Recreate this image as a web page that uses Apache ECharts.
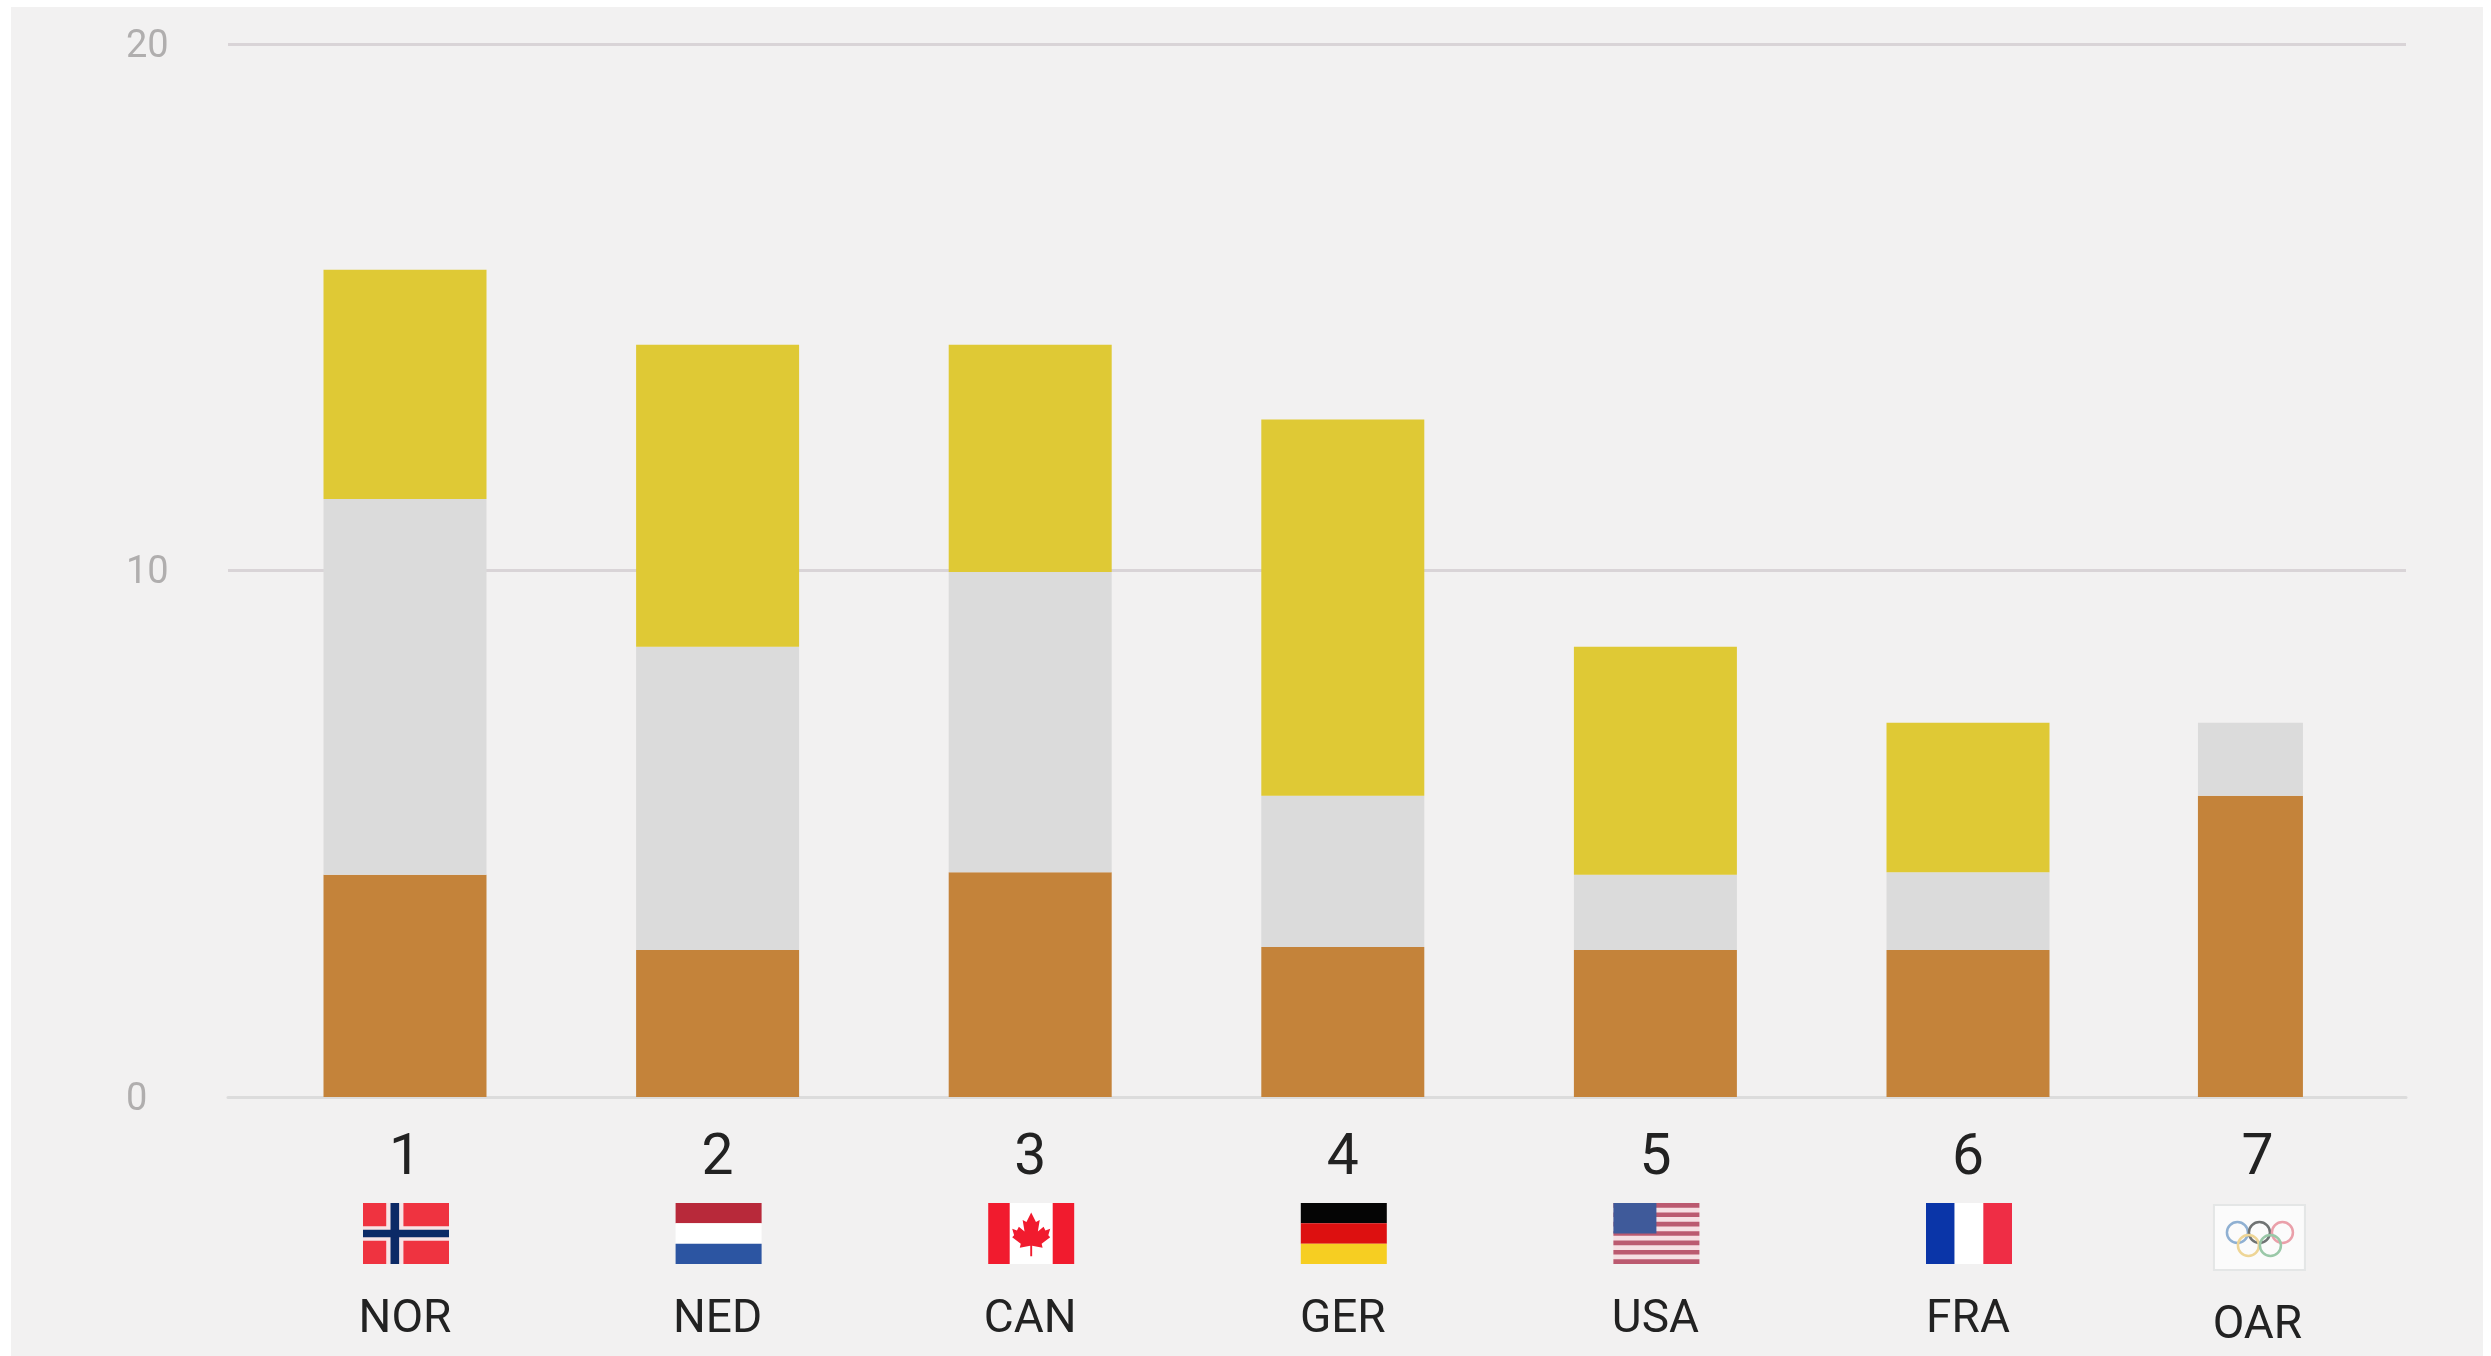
<!DOCTYPE html>
<html><head><meta charset="utf-8">
<style>html,body{margin:0;padding:0;background:#fff}#c{width:2491px;height:1356px}</style>
<script src="https://cdn.jsdelivr.net/npm/echarts@6/dist/echarts.min.js"></script>
</head><body><div id="c"></div>
<script>
const ranks = ['1','2','3','4','5','6','7'];
const codes = ['NOR','NED','CAN','GER','USA','FRA','OAR'];
const bronze = [4.22,2.79,4.27,2.85,2.79,2.79,5.72];
const silver = [7.14,5.76,5.70,2.87,1.43,1.48,1.39];
const gold   = [4.35,5.74,4.32,7.15,4.33,2.84,0];
const yTicks = [0,10,20];

const C = {bg:'#f2f1f1', bronze:'#c4833a', silver:'#dbdbdb', gold:'#dfc935', grid:'#d9d4d7', axis:'#dcdcdc', tick:'#b0aeae', text:'#222'};
const gridTop=44, gridBottom=1356-1097;
const leaf=[[0,-20],[5,-10],[9,-12],[7,0],[13,-5],[15,-1],[20,-3],[18,4],[20,6],[11,13],[12,17],[1,15],[1,26],[-1,26],[-1,15],[-12,17],[-11,13],[-20,6],[-18,4],[-20,-3],[-15,-1],[-13,-5],[-7,0],[-9,-12],[-5,-10]];

function rect(x,y,w,h,fill){return {type:'rect',shape:{x,y,width:w,height:h},style:{fill}};}
function flag(code,x,y,w,h){
  const R=[];
  if(code==='NOR'){R.push(rect(x,y,w,h,'#ef3340'),rect(x+w*.27,y,w*.2,h,'#f7e4e6'),rect(x,y+h*.38,w,h*.24,'#f7e4e6'),rect(x+w*.32,y,w*.1,h,'#0c2a66'),rect(x,y+h*.44,w,h*.12,'#0c2a66'));}
  if(code==='NED'){R.push(rect(x,y,w,h/3,'#b8293a'),rect(x,y+h/3,w,h/3,'#fff'),rect(x,y+2*h/3,w,h/3,'#2c55a2'));}
  if(code==='CAN'){R.push(rect(x,y,w,h,'#fff'),rect(x,y,w*.25,h,'#f11b2e'),rect(x+w*.75,y,w*.25,h,'#f11b2e'));
    const cx=x+w/2,cy=y+h/2-2;
    R.push({type:'polygon',shape:{points:leaf.map(p=>[cx+p[0]*.95,cy+p[1]*.95])},style:{fill:'#f11b2e'}});}
  if(code==='GER'){R.push(rect(x,y,w,h/3,'#050505'),rect(x,y+h/3,w,h/3,'#dd1010'),rect(x,y+2*h/3,w,h/3,'#f6ce22'));}
  if(code==='USA'){R.push(rect(x,y,w,h,'#f6dfe3'));
    for(let k=0;k<7;k++)R.push(rect(x,y+k*2*h/13,w,h/13,'#bb5a70'));
    R.push(rect(x,y,w*.5,h*.5,'#3f5a9a'));}
  if(code==='FRA'){R.push(rect(x,y,w/3,h,'#0a35a8'),rect(x+w/3,y,w/3,h,'#fff'),rect(x+2*w/3,y,w/3,h,'#ef2d45'));}
  if(code==='OAR'){R.push(rect(x,y,w,h,'#fbfbfb'));
    R[0].style.stroke='#e4e6e6';R[0].style.lineWidth=2;
    const cx=x+w/2,cy=y+h/2;
    [[-22,-5,'#8fb0d2'],[0,-5,'#6f7373'],[23,-5,'#eaa0aa'],[-11,8,'#eed596'],[11,8,'#9ac8a8']].forEach(a=>
      R.push({type:'circle',shape:{cx:cx+a[0],cy:cy+a[1],r:10.5},style:{fill:'none',stroke:a[2],lineWidth:2.5}}));}
  return {type:'group',children:R};
}
function flagItem(params,api){
  const i=api.value(0), p=api.coord([i,0]), code=codes[i];
  if(code==='OAR') return flag(code,p[0]+9-45.5,1205,91,65);
  return flag(code,p[0]+1-43,1203,86,61);
}
const labelRich={
  r:{fontFamily:'Roboto',fontSize:57,lineHeight:62,color:C.text,align:'center'},
  g:{fontSize:10,lineHeight:104,align:'center'},
  g7:{fontSize:10,lineHeight:110,align:'center'},
  c:{fontFamily:'Roboto',fontSize:46,lineHeight:50,color:C.text,align:'center'}
};
function barSet(name,data,color,axis,width,keep){
  return {name,type:'bar',stack:'m'+axis,xAxisIndex:axis,yAxisIndex:axis,barWidth:width,
    itemStyle:{color},data:data.map((v,i)=>keep(i)?v:null),silent:true};
}
const isOar=i=>codes[i]==='OAR', notOar=i=>!isOar(i);
const series=[];
[['Bronze',bronze,C.bronze],['Silver',silver,C.silver],['Gold',gold,C.gold]].forEach(s=>{
  series.push(barSet(s[0],s[1],s[2],1,163,notOar));
  series.push(barSet(s[0],s[1],s[2],0,105,isOar));
});
series.push({type:'custom',xAxisIndex:1,yAxisIndex:1,silent:true,renderItem:flagItem,data:codes.map((c,i)=>[i]).filter(d=>notOar(d[0]))});
series.push({type:'custom',xAxisIndex:0,yAxisIndex:0,silent:true,renderItem:flagItem,data:codes.map((c,i)=>[i]).filter(d=>isOar(d[0]))});

const chart=echarts.init(document.getElementById('c'),null,{renderer:'canvas'});
chart.setOption({
  animation:false,
  backgroundColor:'#fff',
  graphic:[{type:'rect',z:-10,silent:true,shape:{x:11,y:7,width:2472,height:1349},style:{fill:C.bg}}],
  grid:[
    {left:228,width:2178,top:gridTop,bottom:gridBottom},
    {left:248.7,width:2188.2,top:gridTop,bottom:gridBottom}
  ],
  xAxis:[
    {type:'category',gridIndex:0,data:ranks,axisTick:{show:false},
     axisLine:{lineStyle:{color:C.axis,width:3}},
     axisLabel:{interval:0,margin:32,padding:[0,0,0,14],rich:labelRich,
       formatter:(v,i)=>isOar(i)?`{r|${v}}\n{g7| }\n{c|${codes[i]}}`:''}},
    {type:'category',gridIndex:1,data:ranks,axisTick:{show:false},axisLine:{show:false},
     axisLabel:{interval:0,margin:32,rich:labelRich,
       formatter:(v,i)=>isOar(i)?'':`{r|${v}}\n{g| }\n{c|${codes[i]}}`}}
  ],
  yAxis:[
    {type:'value',gridIndex:0,min:yTicks[0],max:yTicks[2],interval:10,
     axisLine:{show:false},axisTick:{show:false},
     splitLine:{show:true,lineStyle:{color:C.grid,width:3}},
     axisLabel:{align:'left',verticalAlign:'top',lineHeight:6,margin:102,color:C.tick,fontFamily:'Roboto',fontSize:38}},
    {type:'value',gridIndex:1,min:yTicks[0],max:yTicks[2],interval:10,show:false}
  ],
  series
});
</script></body></html>
